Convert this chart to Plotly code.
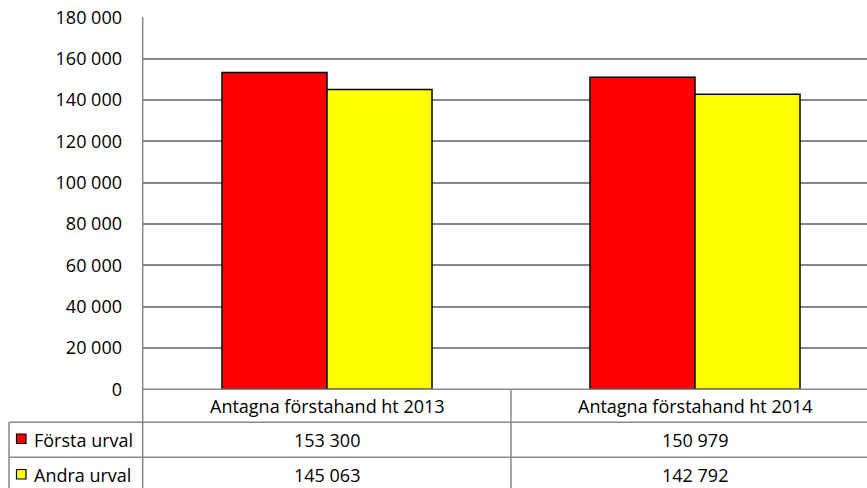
import plotly.graph_objects as go

categories = ["Antagna förstahand ht 2013", "Antagna förstahand ht 2014"]
series_names = ["Första urval", "Andra urval"]
forsta_urval = [153300, 150979]
andra_urval = [145063, 142792]
y_ticks = [0, 20000, 40000, 60000, 80000, 100000, 120000, 140000, 160000, 180000]

W, H = 867, 488
FONT = "Open Sans"
FS = 18
GRID = "#888888"
colors = ["#FF0000", "#FFFF00"]


def px(x):
    return x / W


def py(y):
    return 1 - y / H


def fmt(v):
    return f"{v:,}".replace(",", " ")


fig = go.Figure()
for name, vals, col in zip(series_names, [forsta_urval, andra_urval], colors):
    fig.add_trace(go.Bar(
        x=list(range(len(categories))), y=vals, name=name,
        marker=dict(color=col, line=dict(color="black", width=1.5)),
        showlegend=False, hoverinfo="skip",
    ))

x_left, x_right = 143, W
cat_w = 368
x_range = [-0.5, -0.5 + (x_right - x_left) / cat_w]

fig.update_layout(
    template="none",
    width=W, height=H,
    margin=dict(l=0, r=0, t=0, b=0, pad=0, autoexpand=False),
    paper_bgcolor="white", plot_bgcolor="white",
    barmode="group", bargap=158 / 368, bargroupgap=0,
    separators=", ",
    font=dict(family=FONT, size=FS, color="black"),
    xaxis=dict(domain=[px(x_left), 1], range=x_range, showticklabels=False,
               showgrid=False, zeroline=False, showline=False, fixedrange=True,
               automargin=False, ticks=""),
    yaxis=dict(domain=[py(389.3), py(17.3)], range=[0, 180000],
               tickvals=y_ticks, ticktext=[fmt(v) for v in y_ticks],
               showgrid=True, gridcolor=GRID, gridwidth=1.5,
               zeroline=False, showline=False, ticks="",
               ticklabelstandoff=20, automargin=False, fixedrange=True,
               tickfont=dict(family=FONT, size=FS, color="black")),
)

shapes = []
def hline(y, x0, x1):
    shapes.append(dict(type="line", xref="paper", yref="paper",
                       x0=px(x0), x1=px(x1), y0=py(y), y1=py(y),
                       line=dict(color=GRID, width=1.5), layer="above"))

def vline(x, y0, y1):
    shapes.append(dict(type="line", xref="paper", yref="paper",
                       x0=px(x), x1=px(x), y0=py(y0), y1=py(y1),
                       line=dict(color=GRID, width=1.5), layer="above"))

hline(389.3, 142.7, W)
hline(422.3, 9, W)
hline(457.3, 9, W)
vline(9, 422.3, H)
vline(142.7, 17.3, H)
# separator between category columns (at category boundary 0.5)
shapes.append(dict(type="line", xref="x", yref="paper", x0=0.5, x1=0.5,
                   y0=py(389.3), y1=py(H), line=dict(color=GRID, width=1.5)))

# legend keys in table
key_rows = [(434, 443.5), (469.5, 479)]
for (y0, y1), col in zip(key_rows, colors):
    shapes.append(dict(type="rect", xref="paper", yref="paper",
                       x0=px(16.5), x1=px(26), y0=py(y1), y1=py(y0),
                       fillcolor=col, line=dict(color="black", width=1.2)))

fig.update_layout(shapes=shapes)

ann = []
for i, c in enumerate(categories):
    ann.append(dict(x=i, y=py(406), xref="x", yref="paper", text=c,
                    showarrow=False, xanchor="center", yanchor="middle",
                    font=dict(family=FONT, size=FS, color="black")))
row_y = [440, 474.5]
for r, (name, vals) in enumerate(zip(series_names, [forsta_urval, andra_urval])):
    ann.append(dict(x=px(32), y=py(row_y[r]), xref="paper", yref="paper", text=name,
                    showarrow=False, xanchor="left", yanchor="middle",
                    font=dict(family=FONT, size=FS, color="black")))
    for i, v in enumerate(vals):
        ann.append(dict(x=i, y=py(row_y[r]), xref="x", yref="paper", text=fmt(v),
                        showarrow=False, xanchor="center", yanchor="middle",
                        font=dict(family=FONT, size=FS, color="black")))
fig.update_layout(annotations=ann)

fig.write_html(
    "out.html",
    config={"displayModeBar": False},
    post_script="document.body.style.margin='0';document.body.style.overflow='hidden';",
)
